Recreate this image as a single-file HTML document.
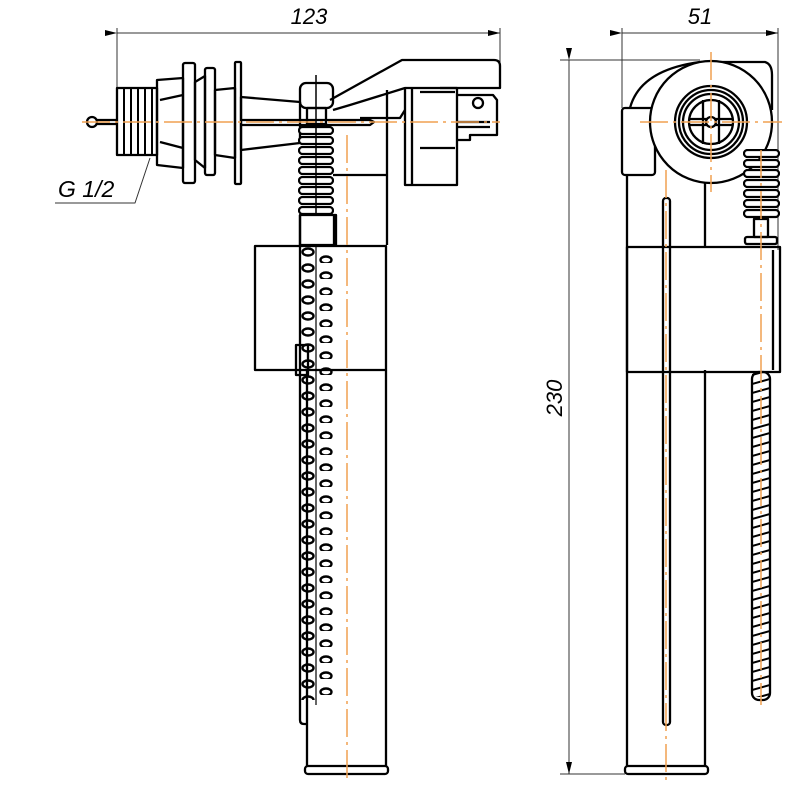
<!DOCTYPE html>
<html><head><meta charset="utf-8"><style>html,body{margin:0;padding:0;background:#fff}svg{display:block}</style></head><body>
<svg width="800" height="800" viewBox="0 0 800 800" xmlns="http://www.w3.org/2000/svg">
<defs>
<pattern id="chain" x="300" y="215" width="36" height="16" patternUnits="userSpaceOnUse">
<ellipse cx="8" cy="5" rx="5.5" ry="3.5" fill="none" stroke="#000" stroke-width="2.4"/>
<ellipse cx="26" cy="13" rx="5.5" ry="3.5" fill="none" stroke="#000" stroke-width="2.4"/>
</pattern>
<pattern id="spring" x="298" y="126" width="36" height="10" patternUnits="userSpaceOnUse">
<rect x="1" y="1" width="34" height="7" rx="3.5" fill="#fff" stroke="#000" stroke-width="2.2"/>
</pattern>
<pattern id="spring2" x="743" y="149" width="37" height="10" patternUnits="userSpaceOnUse">
<rect x="1" y="1" width="35" height="7" rx="3.5" fill="#fff" stroke="#000" stroke-width="2.2"/>
</pattern>
<pattern id="twist" x="752" y="0" width="18" height="9" patternUnits="userSpaceOnUse">
<line x1="0" y1="6" x2="18" y2="1" stroke="#000" stroke-width="2"/>
</pattern>
<marker id="ar" markerWidth="12" markerHeight="6" refX="12" refY="3" orient="auto" markerUnits="userSpaceOnUse"><path d="M0,0 L12,3 L0,6 z" fill="#000"/></marker>
</defs>
<g fill="none" stroke="#000" stroke-width="2.3" stroke-linejoin="round">
<g stroke-width="1" stroke="#333">
<line x1="117" y1="28" x2="117" y2="90"/>
<line x1="500" y1="28" x2="500" y2="62"/>
<line x1="117" y1="33" x2="500" y2="33" marker-start="url(#ar)" marker-end="url(#ar)"/>
<line x1="622" y1="28" x2="622" y2="108"/>
<line x1="778" y1="28" x2="778" y2="250"/>
<line x1="622" y1="33" x2="778" y2="33" marker-start="url(#ar)" marker-end="url(#ar)"/>
<line x1="560" y1="60" x2="700" y2="60"/>
<line x1="560" y1="774" x2="625" y2="774"/>
<line x1="569" y1="60" x2="569" y2="774" marker-start="url(#ar)" marker-end="url(#ar)"/>
<polyline points="150,158 135,203 55,203"/>
</g>
<circle cx="92" cy="122" r="5"/>
<line x1="97" y1="120" x2="117" y2="120"/><line x1="97" y1="124" x2="117" y2="124"/>
<rect x="117" y="88" width="40" height="67"/>
<g stroke-width="2"><line x1="124" y1="88" x2="124" y2="155"/><line x1="131" y1="88" x2="131" y2="155"/><line x1="138" y1="88" x2="138" y2="155"/><line x1="145" y1="88" x2="145" y2="155"/><line x1="152" y1="88" x2="152" y2="155"/></g>
<polygon points="157,80 183,78 183,168 157,165"/>
<line x1="160" y1="100" x2="183" y2="95"/><line x1="160" y1="142" x2="183" y2="148"/>
<rect x="183" y="63" width="12" height="120" rx="2"/>
<polygon points="195,82 205,76 205,168 195,160"/>
<rect x="205" y="68" width="10" height="107" rx="2"/>
<polygon points="215,90 235,88 235,158 215,155"/>
<rect x="235" y="62" width="6" height="122" rx="1"/>
<polygon points="241,97 300,102 300,143 241,150"/>
<path d="M241,120 L370,120 L374,122 L370,125 L241,125"/>
<path d="M330,100 L402,60 L494,60 Q500,60 500,66 L500,88 L440,88"/>
<path d="M333,110 L350,105 L405,88"/>
<rect x="300" y="83" width="33" height="25" rx="6"/>
<rect x="307" y="108" width="19" height="16"/>
<rect x="405" y="88" width="52" height="97"/>
<line x1="412" y1="88" x2="412" y2="185"/>
<line x1="420" y1="92" x2="455" y2="92"/><line x1="420" y1="148" x2="455" y2="148"/>
<path d="M457,95 L493,95 L497,100 L497,135 L470,135 L470,140 L457,140"/>
<circle cx="478" cy="103" r="5"/>
<line x1="458" y1="122" x2="490" y2="122"/><line x1="458" y1="127" x2="490" y2="127"/>
<path d="M333,175 L387,175 M387,90 L387,245 M360,118 L400,118 L405,110"/>
<rect x="298" y="126" width="36" height="90" fill="url(#spring)" stroke="none"/>
<line x1="316" y1="75" x2="316" y2="215" stroke-width="1.5"/>
<rect x="255" y="246" width="131" height="124"/>
<line x1="307" y1="370" x2="307" y2="766"/><line x1="386" y1="370" x2="386" y2="766"/>
<line x1="334" y1="215" x2="334" y2="246"/>
<rect x="305" y="766" width="83" height="8" rx="3"/>
<path d="M300,215 L300,720 Q300,724 304,724 L307,724"/>
<rect x="300" y="215" width="36" height="30"/>
<rect x="296" y="345" width="12" height="30"/>
<rect x="300" y="245" width="36" height="455" fill="url(#chain)" stroke="none"/>
<line x1="316" y1="245" x2="316" y2="705" stroke-width="1.2"/>
<path d="M630,108 Q640,70 700,62 L765,62 Q772,64 772,75 L772,110"/>
<rect x="622" y="108" width="33" height="67" rx="3"/>
<line x1="627" y1="175" x2="627" y2="766"/><line x1="705" y1="175" x2="705" y2="246"/>
<line x1="705" y1="370" x2="705" y2="766"/>
<circle cx="711" cy="122" r="61" fill="#fff"/>
<circle cx="711" cy="122" r="36"/><circle cx="711" cy="122" r="32"/><circle cx="711" cy="122" r="28"/><circle cx="711" cy="122" r="22"/>
<line x1="689" y1="119" x2="733" y2="119"/><line x1="689" y1="125" x2="733" y2="125"/>
<line x1="703" y1="100" x2="703" y2="144"/><line x1="719" y1="100" x2="719" y2="144"/>
<circle cx="711" cy="122" r="5" fill="#fff"/>
<rect x="663" y="198" width="7" height="527" rx="3"/>
<rect x="627" y="247" width="153" height="125"/>
<line x1="773" y1="250" x2="773" y2="370"/>
<rect x="743" y="149" width="37" height="70" fill="url(#spring2)" stroke="none"/>
<rect x="754" y="219" width="14" height="18"/>
<rect x="745" y="237" width="32" height="7" rx="2"/>
<rect x="752" y="372" width="18" height="328" rx="7"/>
<rect x="752" y="372" width="18" height="325" fill="url(#twist)" stroke="none"/>
<rect x="625" y="766" width="83" height="8" rx="3"/>
</g>
<g stroke="#f0a050" stroke-width="1.5" stroke-dasharray="28,5,3,5" fill="none">
<line x1="82" y1="122" x2="500" y2="122"/>
<line x1="347" y1="135" x2="347" y2="780"/>
<line x1="640" y1="122" x2="782" y2="122"/>
<line x1="711" y1="52" x2="711" y2="192"/>
<line x1="666" y1="170" x2="666" y2="780"/>
<line x1="761" y1="150" x2="761" y2="705"/>
</g>
<g font-family="Liberation Sans, sans-serif" font-style="italic" fill="#000">
<text x="309" y="24" font-size="22" text-anchor="middle">123</text>
<text x="700" y="24" font-size="22" text-anchor="middle">51</text>
<text x="58" y="197" font-size="23">G 1/2</text>
<text transform="translate(562,398) rotate(-90)" font-size="22" text-anchor="middle">230</text>
</g>
</svg>
</body></html>
